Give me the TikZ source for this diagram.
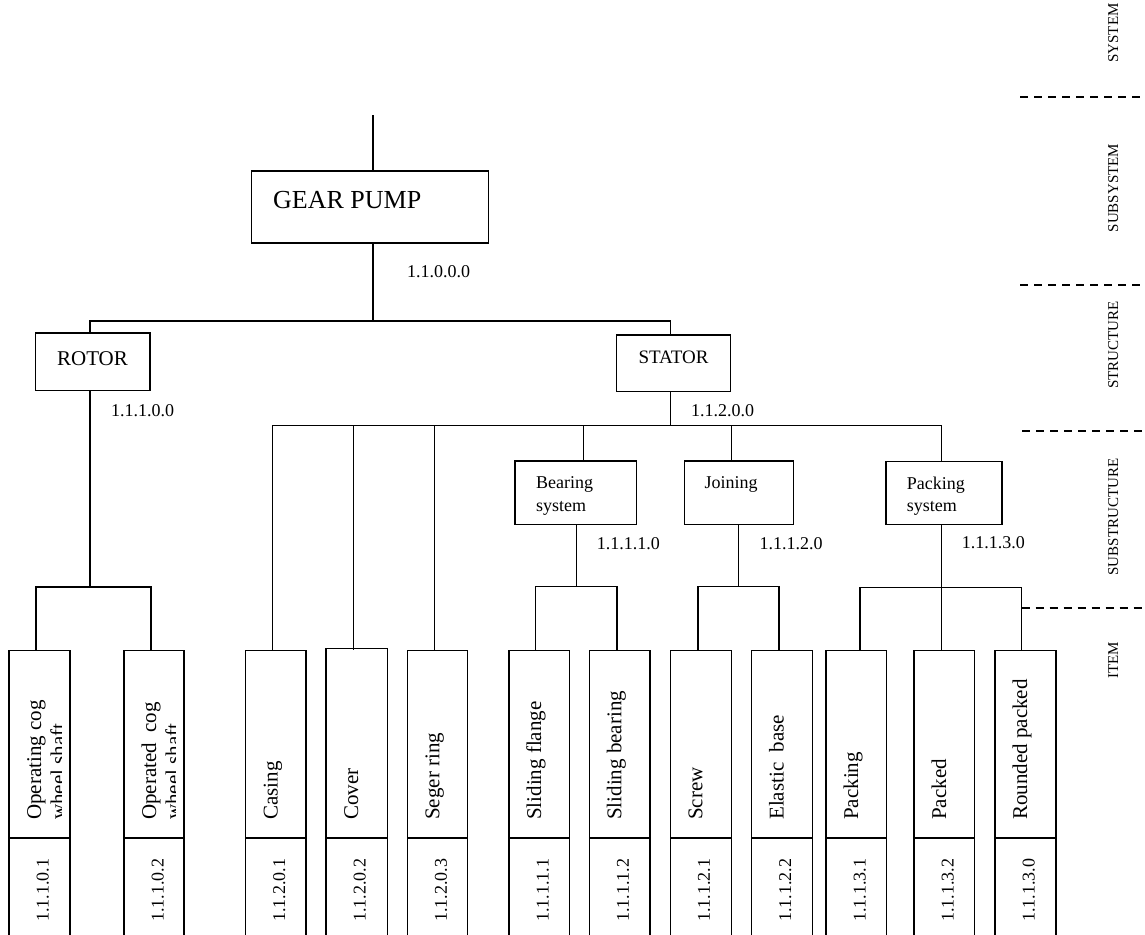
\documentclass[tikz,border=0pt]{standalone}
\usepackage{fontspec}
\setmainfont{Liberation Serif}
\begin{document}
\begin{tikzpicture}[x=1pt,y=-1pt,
  bx/.style={draw, line width=1.5pt, rectangle, inner sep=0pt, outer sep=0pt},
  ln/.style={line width=1.5pt},
  dsh/.style={line width=1.3pt, dash pattern=on 8pt off 6pt},
  big/.style={font=\fontsize{26}{30}\selectfont, inner sep=0pt},
  mid/.style={font=\fontsize{21}{24}\selectfont, inner sep=0pt},
  sm/.style={font=\fontsize{18}{21}\selectfont, inner sep=0pt},
  lvl/.style={font=\fontsize{15}{18}\selectfont, inner sep=0pt, rotate=90, anchor=base}]
\useasboundingbox (0,0) rectangle (1145,934);
\newcommand{\boxat}[5]{\node[bx, minimum width={#4-#2}, minimum height={#5-#3}] (#1) at ({(#2+#4)/2},{(#3+#5)/2}) {};}
% boxes
\boxat{gear}{251.7}{171}{488.7}{243}
\boxat{rotor}{35.7}{333}{150}{390.7}
\boxat{stator}{616.7}{335}{730.7}{391.7}
\boxat{bear}{515}{461}{636.7}{524.3}
\boxat{join}{684.3}{461}{793.3}{524.3}
\boxat{pack}{886}{461.7}{1002}{524.3}
% texts
\node[big, anchor=base west] (tgear) at (273,208) {GEAR PUMP};
\node[mid, anchor=base] (trotor) at (92.5,365) {ROTOR};
\node[font=\fontsize{19}{22}\selectfont, inner sep=0pt, anchor=base] (tstator) at (673.5,363.3) {STATOR};
\node[sm, anchor=base west] (tbear1) at (536,488.5) {Bearing};
\node[sm, anchor=base west] (tbear2) at (536,511) {system};
\node[sm, anchor=base west] (tjoin) at (704.3,488.5) {Joining};
\node[sm, anchor=base west] (tpack1) at (906.7,489) {Packing};
\node[sm, anchor=base west] (tpack2) at (906.7,511) {system};
\node[sm, anchor=base west] (l0) at (407,277) {1.1.0.0.0};
\node[sm, anchor=base west] (l1) at (111,416.5) {1.1.1.0.0};
\node[sm, anchor=base west] (l2) at (691,416) {1.1.2.0.0};
\node[sm, anchor=base west] (l3) at (596.7,549) {1.1.1.1.0};
\node[sm, anchor=base west] (l4) at (759.3,549) {1.1.1.2.0};
\node[sm, anchor=base west] (l5) at (961.7,548.3) {1.1.1.3.0};
% items: name / left / right / connector x / top / text / number
\foreach \n/\l/\r/\c/\t/\txt/\num in {
  i1/9/70/36/650.5/{Operating cog}/1.1.1.0.1,
  i2/124/184/151/650.5/{Operated\ \ cog}/1.1.1.0.2,
  i3/245.7/306/272.3/650.5/Casing/1.1.2.0.1,
  i4/326/387.3/353.7/648.3/Cover/1.1.2.0.2,
  i5/407.3/467.7/434.3/650.5/Seger ring/1.1.2.0.3,
  i6/509/569.3/535.7/650.5/Sliding flange/1.1.1.1.1,
  i7/589.3/650/617/650.5/Sliding bearing/1.1.1.1.2,
  i8/670.3/731.7/698/650.5/Screw/1.1.1.2.1,
  i9/751.7/812.3/779/650.5/{Elastic\ \ base}/1.1.1.2.2,
  i10/826/886.7/860/650.5/Packing/1.1.1.3.1,
  i11/914/974.3/941.7/650.5/Packed/1.1.1.3.2,
  i12/995/1056/1021.7/650.5/Rounded packed/1.1.1.3.0} {
  \boxat{\n}{\l}{\t}{\r}{838}
  \boxat{\n n}{\l}{838}{\r}{945}
  \node[mid, rotate=90, anchor=base west] (\n t) at ({\l+32},820) {\txt};
  \node[sm, rotate=90, anchor=base west] (\n x) at ({\l+39.5},922) {\num};
  \coordinate (\n c) at (\c,650);
}
\begin{scope}
  \clip (9,651) rectangle (61,837);
  \node[mid, rotate=90, anchor=base west] (i1u) at (65,820) {wheel shaft};
\end{scope}
\begin{scope}
  \clip (124,651) rectangle (175.7,837);
  \node[mid, rotate=90, anchor=base west] (i2u) at (180,820) {wheel shaft};
\end{scope}
% connectors
\coordinate (tp) at (373,115);
\coordinate (j0) at (373,321);
\coordinate (jr) at (90,321);
\coordinate (js) at (670.7,321);
\draw[ln] (tp) -- (tp |- gear.north);
\draw[ln] (gear.south -| j0) -- (j0);
\draw[ln] (rotor.north -| jr) -- (jr) -- (js) -- (stator.north -| js);
% rotor branch
\coordinate (k1) at (90,587);
\draw[ln] (rotor.south -| k1) -- (k1);
\draw[ln] (i1c) -- (i1c |- k1) -- (i2c |- k1) -- (i2c);
% stator branch
\coordinate (k2) at (670.7,425.7);
\coordinate (bt) at (583.3,425.7);
\coordinate (jt) at (731.7,425.7);
\coordinate (pt) at (941.7,425.7);
\draw[ln] (stator.south -| k2) -- (k2);
\draw[ln] (i3c |- k2) -- (pt);
\draw[ln] (i3c |- k2) -- (i3c);
\draw[ln] (i4c |- k2) -- (i4c);
\draw[ln] (i5c |- k2) -- (i5c);
\draw[ln] (bt) -- (bear.north -| bt);
\draw[ln] (jt) -- (join.north -| jt);
\draw[ln] (pt) -- (pack.north -| pt);
% bearing branch
\coordinate (kb) at (576.7,586.7);
\draw[ln] (bear.south -| kb) -- (kb);
\draw[ln] (i6c) -- (i6c |- kb) -- (i7c |- kb) -- (i7c);
% joining branch
\coordinate (kj) at (738.5,586.7);
\draw[ln] (join.south -| kj) -- (kj);
\draw[ln] (i8c) -- (i8c |- kj) -- (i9c |- kj) -- (i9c);
% packing branch
\coordinate (kp) at (941.7,587.3);
\draw[ln] (pack.south -| kp) -- (kp);
\draw[ln] (i10c) -- (i10c |- kp) -- (i12c |- kp) -- (i12c);
\draw[ln] (i11c |- kp) -- (i11c);
% level lines
\coordinate (d4) at (1021.7,608);
\draw[dsh] (1020,97) -- (1145,97);
\draw[dsh] (1020,285) -- (1145,285);
\draw[dsh] (1022,431) -- (1145,431);
\draw[dsh] (d4) -- (1145,608);
\node[lvl] (v1) at (1118,33) {SYSTEM};
\node[lvl] (v2) at (1118,188) {SUBSYSTEM};
\node[lvl] (v3) at (1118,345) {STRUCTURE};
\node[lvl] (v4) at (1118,517) {SUBSTRUCTURE};
\node[lvl] (v5) at (1118,660) {ITEM};
\end{tikzpicture}
\end{document}
